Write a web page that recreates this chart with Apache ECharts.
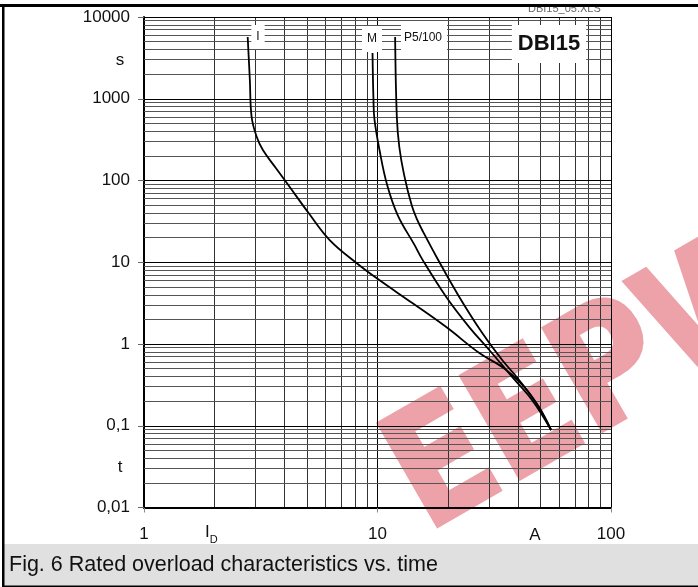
<!DOCTYPE html>
<html><head><meta charset="utf-8">
<script src="https://cdn.jsdelivr.net/npm/echarts@6/dist/echarts.min.js"></script>
<style>html,body{margin:0;padding:0;background:#fff}#c{width:698px;height:587px}</style>
</head><body><div id="c"></div>
<script>
// ---- data ----
const curveI_x = [2.78, 2.84, 2.89, 3.04, 3.23, 3.67, 4.12, 5.07, 6.24, 8.13, 9.9, 14.1, 19.7, 27.3, 35.6, 44.6, 55.4];
const curveI_t = [5690, 1695, 598, 340, 236, 142, 90.6, 40.0, 18.7, 9.8, 6.4, 3.17, 1.61, 0.776, 0.481, 0.252, 0.0887];
const curveM_x = [9.52, 9.61, 9.71, 10.2, 11.0, 12.2, 14.4, 15.6, 19.7, 24.7, 30.1, 37.8, 45.9, 55.4];
const curveM_t = [3630, 966, 550, 236, 88, 37.8, 16.3, 10.7, 3.76, 1.61, 0.845, 0.394, 0.207, 0.0887];
const curveP_x = [11.9, 12.1, 12.4, 13.0, 14.0, 14.8, 15.7, 17.9, 22.4, 28.1, 34.2, 40.4, 49.2, 55.4];
const curveP_t = [5690, 598, 257, 117, 50, 32.9, 23.4, 11.6, 3.76, 1.36, 0.637, 0.363, 0.170, 0.0887];
const seriesNames = ['I', 'M', 'P5/100'];
const yTickLabels = ['0,01', '0,1', '1', '10', '100', '1000', '10000'];
const xTickLabels = ['1', '10', '100'];
const gridX = [1,2,3,4,5,6,7,8,9,10,20,30,40,50,60,70,80,90,100];
const gridYmant = [1,2,3,4,5,6,7,8,9];
const gridYdec = [0.01, 0.1, 1, 10, 100, 1000];
const caption = 'Fig. 6 Rated overload characteristics vs. time';
const chartTitle = 'DBI15';
const fileTag = 'DBI15_05.XLS';
const watermark = 'EEPW';

const pts = (xs, ys) => xs.map((x, i) => [x, ys[i]]);
const FONT = 'Liberation Sans, Arial, Helvetica, sans-serif';

const gridLinesData = [];
gridX.forEach(v => gridLinesData.push({xAxis: v, lineStyle: {color: (v===1||v===10||v===100)?'#000':'#333', width: 1, type: 'solid'}}));
gridYdec.forEach(d => gridYmant.forEach(m => {
  const v = +(d*m).toPrecision(3);
  gridLinesData.push({yAxis: v, lineStyle: {color: m===1?'#000':'#555', width: 1, type: 'solid'}});
}));
gridLinesData.push({yAxis: 10000, lineStyle: {color: '#000', width: 1, type: 'solid'}});

const chart = echarts.init(document.getElementById('c'), null, {renderer: 'canvas'});
const curveStyle = {color: '#000', width: 1.8};
chart.setOption({
  animation: false,
  backgroundColor: '#fff',
  grid: {left: 144, right: 87, top: 17, bottom: 79.5, containLabel: false},
  xAxis: {
    type: 'log', logBase: 10, min: 1, max: 100,
    axisLine: {show: true, onZero: false, lineStyle: {color: '#000', width: 2}},
    axisTick: {show: true, length: 5, lineStyle: {color: '#888'}},
    splitLine: {show: false},
    axisLabel: {margin: 18, fontFamily: FONT, fontSize: 17, color: '#111',
      formatter: v => xTickLabels[Math.round(Math.log10(v))]}
  },
  yAxis: {
    type: 'log', logBase: 10, min: 0.01, max: 10000,
    axisLine: {show: true, onZero: false, lineStyle: {color: '#000', width: 2}},
    axisTick: {show: true, length: 6, lineStyle: {color: '#666'}},
    splitLine: {show: false},
    axisLabel: {margin: 14, fontFamily: FONT, fontSize: 17, color: '#111',
      formatter: v => yTickLabels[Math.round(Math.log10(v)) + 2]}
  },
  series: [
    {type: 'line', name: 'grid', data: [[1, 0.01]], showSymbol: false, symbol: 'none',
     lineStyle: {opacity: 0}, z: 1, silent: true,
     markLine: {silent: true, symbol: ['none', 'none'], label: {show: false}, animation: false,
       data: gridLinesData}},
    {type: 'line', name: seriesNames[0], data: pts(curveI_x, curveI_t), smooth: 0.4, symbol: 'none', lineStyle: curveStyle, z: 5},
    {type: 'line', name: seriesNames[1], data: pts(curveM_x, curveM_t), smooth: 0.4, symbol: 'none', lineStyle: curveStyle, z: 5},
    {type: 'line', name: seriesNames[2], data: pts(curveP_x, curveP_t), smooth: 0.4, symbol: 'none', lineStyle: curveStyle, z: 5}
  ],
  graphic: [
    // watermark (under the grid)
    {type: 'text', x: 446, y: 566, rotation: 30 * Math.PI / 180, scaleX: 0.86, scaleY: 1, z: 0, silent: true,
     style: {text: watermark, fontFamily: 'DejaVu Sans', fontSize: 162, fontWeight: 'bold', fill: '#eca2a8',
       stroke: '#eca2a8', lineWidth: 4, align: 'left', verticalAlign: 'bottom'}},
    // file tag (mostly hidden by the border)
    {type: 'text', x: 528, y: 14, z: 50, style: {text: fileTag, fontFamily: FONT, fontSize: 11, fill: '#666', verticalAlign: 'bottom'}},
    // curve labels with white boxes
    {type: 'text', x: 258, y: 37, z: 60, style: {text: seriesNames[0], fontFamily: FONT, fontSize: 12, fill: '#111', align: 'center', verticalAlign: 'middle', backgroundColor: '#fff', padding: [6, 5, 6, 5]}},
    {type: 'text', x: 372, y: 39, z: 60, style: {text: seriesNames[1], fontFamily: FONT, fontSize: 12, fill: '#111', align: 'center', verticalAlign: 'middle', backgroundColor: '#fff', padding: [7, 5, 7, 5]}},
    {type: 'text', x: 401, y: 38, z: 60, style: {text: seriesNames[2], fontFamily: FONT, fontSize: 12, fill: '#111', align: 'left', verticalAlign: 'middle', backgroundColor: '#fff', padding: [7, 5, 7, 3]}},
    {type: 'text', x: 549, y: 44, z: 60, style: {text: chartTitle, fontFamily: FONT, fontSize: 22, fontWeight: 'bold', fill: '#111', align: 'center', verticalAlign: 'middle', backgroundColor: '#fff', padding: [8, 6, 8, 6]}},
    // axis unit letters
    {type: 'text', x: 120, y: 60, z: 60, style: {text: 's', fontFamily: FONT, fontSize: 17, fill: '#111', align: 'center', verticalAlign: 'middle'}},
    {type: 'text', x: 120, y: 467, z: 60, style: {text: 't', fontFamily: FONT, fontSize: 17, fill: '#111', align: 'center', verticalAlign: 'middle'}},
    {type: 'text', x: 205, y: 524, z: 60, style: {text: '{a|I}{b|D}', fontFamily: FONT, fill: '#111',
      rich: {a: {fontSize: 17, fontFamily: FONT, color: '#111', verticalAlign: 'top'}, b: {fontSize: 11, fontFamily: FONT, color: '#111', padding: [10, 0, 0, 0]}}}},
    {type: 'text', x: 535, y: 535, z: 60, style: {text: 'A', fontFamily: FONT, fontSize: 17, fill: '#111', align: 'center', verticalAlign: 'middle'}},
    // caption band
    {type: 'rect', z: 90, shape: {x: 3, y: 544, width: 698, height: 42}, style: {fill: '#e0e0e0'}},
    {type: 'text', x: 9, y: 565, z: 95, style: {text: caption, fontFamily: FONT, fontSize: 21.5, fill: '#111', verticalAlign: 'middle'}},
    // frame
    {type: 'rect', z: 100, shape: {x: 0, y: 4, width: 698, height: 3}, style: {fill: '#000'}},
    {type: 'rect', z: 100, shape: {x: 2, y: 4, width: 2.5, height: 583}, style: {fill: '#000'}},
    {type: 'rect', z: 100, shape: {x: 2, y: 585.5, width: 696, height: 1.5}, style: {fill: '#000'}}
  ]
});
</script></body></html>
